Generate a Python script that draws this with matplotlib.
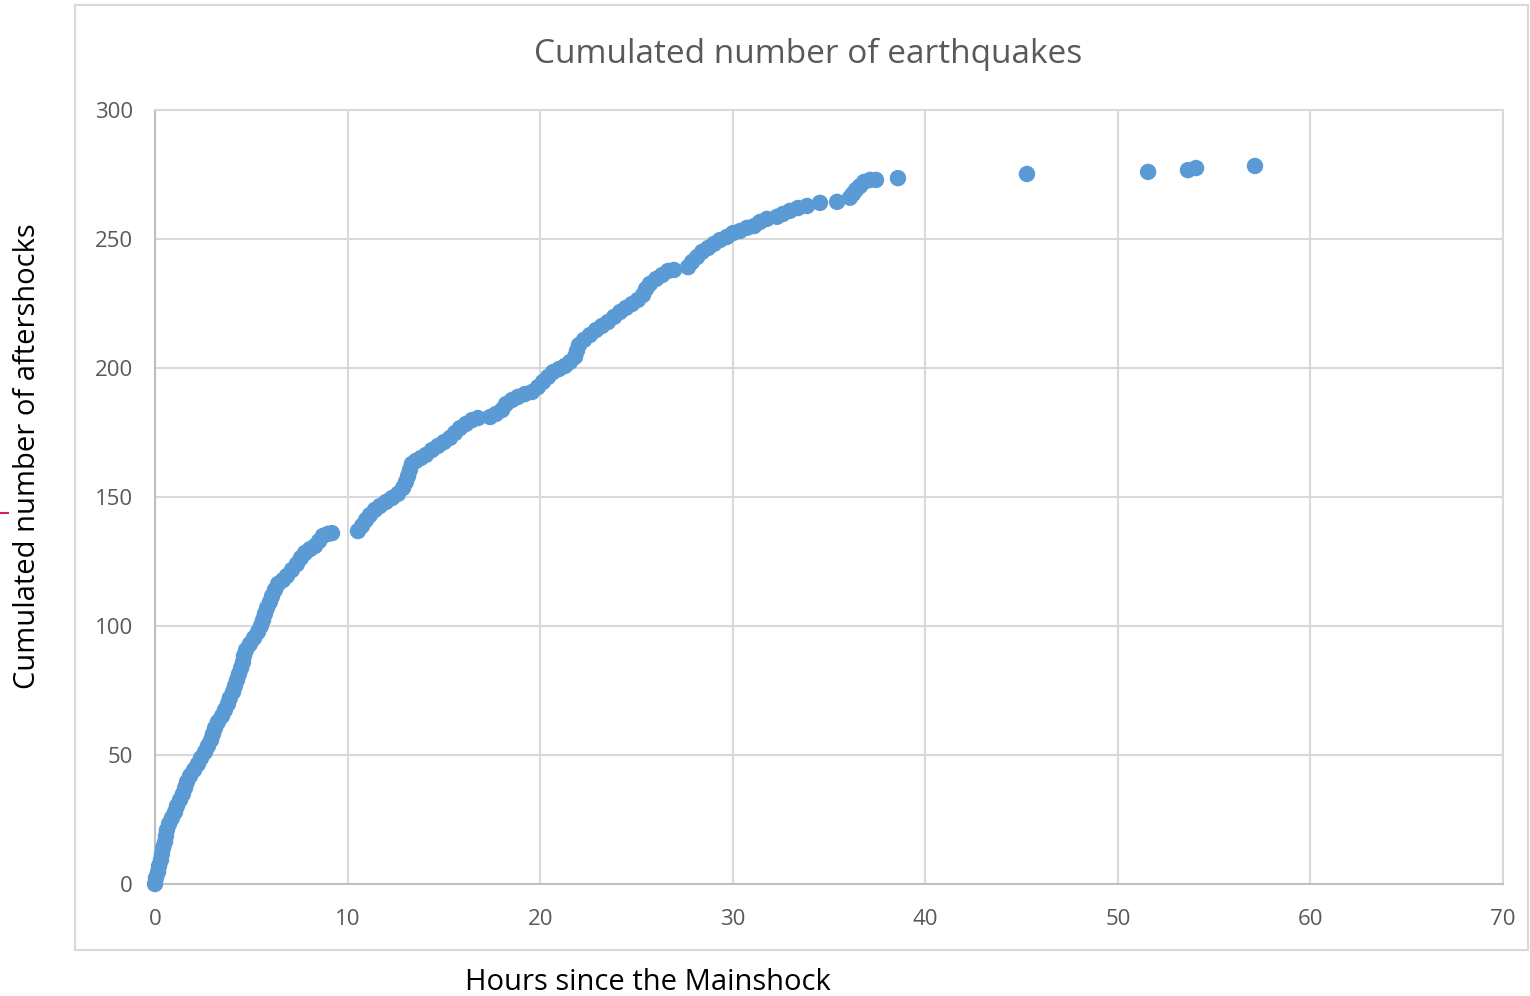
import matplotlib.pyplot as plt
from matplotlib.patches import Rectangle
from matplotlib.lines import Line2D

# temps (heures depuis le choc principal) et nombre cumule de repliques
hours = [
    0.00, 0.05, 0.16, 0.21, 0.31, 0.36, 0.42, 0.52, 0.57, 0.62, 0.73, 0.88,
    1.04, 1.14, 1.30, 1.45, 1.56, 1.66, 1.82, 2.03, 2.23, 2.39, 2.60, 2.75,
    2.91, 3.01, 3.12, 3.27, 3.48, 3.63, 3.79, 3.89, 4.05, 4.15, 4.26, 4.36,
    4.47, 4.57, 4.62, 4.73, 4.93, 5.14, 5.35, 5.50, 5.61, 5.71, 5.82, 5.97,
    6.08, 6.23, 6.39, 6.65, 6.85, 7.11, 7.37, 7.58, 7.79, 8.05, 8.31, 8.52,
    8.72, 8.98, 9.19,
    10.54, 10.75, 10.96, 11.16, 11.42, 11.68, 12.00, 12.31, 12.62, 12.88,
    13.03, 13.14, 13.24, 13.34, 13.55, 13.81, 14.07, 14.38, 14.70, 15.01,
    15.32, 15.58, 15.84, 16.15, 16.46, 16.77, 17.40, 17.71, 18.02, 18.23,
    18.54, 18.85, 19.21, 19.58, 19.89, 20.15, 20.41, 20.67, 20.98, 21.29,
    21.55, 21.81, 21.91, 22.02, 22.28, 22.59, 22.90, 23.21, 23.52, 23.84,
    24.15, 24.46, 24.77, 25.08, 25.34, 25.50, 25.70, 26.02, 26.33, 26.64,
    26.95, 27.68, 27.89, 28.15, 28.41, 28.72, 29.03, 29.34, 29.70, 30.02,
    30.38, 30.74, 31.11, 31.42, 31.78, 32.30, 32.61, 32.97, 33.39, 33.86,
    34.53, 35.42, 36.09, 36.24, 36.40, 36.61, 36.82, 37.13, 37.44, 38.58,
    45.28, 51.57, 53.64, 54.06, 57.12,
]
counts = [
    0.0, 2.3, 4.7, 7.0, 9.3, 11.6, 14.0, 16.3, 18.6, 20.9, 23.3, 25.6,
    27.9, 30.2, 32.6, 34.9, 37.2, 39.5, 41.9, 44.2, 46.5, 48.8, 51.2, 53.5,
    55.8, 58.1, 60.5, 62.8, 65.1, 67.4, 69.8, 72.1, 74.4, 76.7, 79.1, 81.4,
    83.7, 86.0, 88.4, 90.7, 93.0, 95.3, 97.7, 100.0, 102.3, 104.7, 107.0, 109.3,
    111.6, 114.0, 116.3, 117.8, 119.4, 121.7, 124.0, 126.4, 128.3, 129.8, 131.0, 132.9,
    134.9, 135.7, 136.0,
    136.8, 138.8, 141.1, 143.0, 145.0, 146.5, 148.1, 149.6, 151.2, 153.5,
    155.8, 158.1, 160.5, 162.8, 164.0, 165.1, 166.3, 168.2, 169.8, 171.3,
    172.9, 174.8, 176.7, 178.3, 179.8, 180.6, 181.0, 182.2, 183.7, 186.0,
    187.6, 188.8, 189.9, 190.7, 192.6, 194.6, 196.5, 198.4, 199.6, 200.8,
    202.3, 204.3, 206.6, 208.9, 210.9, 212.8, 214.7, 216.3, 217.8, 219.8,
    221.7, 223.3, 224.8, 226.4, 228.3, 230.6, 232.6, 234.5, 236.0, 237.6,
    238.0, 239.1, 241.1, 243.0, 245.0, 246.5, 248.1, 249.6, 250.8, 252.3,
    253.1, 254.3, 255.0, 256.6, 257.8, 258.6, 259.7, 260.9, 262.0, 262.8,
    264.0, 264.4, 266.0, 267.4, 269.0, 270.5, 272.1, 272.9, 272.9, 273.6,
    275.2, 276.0, 276.7, 277.5, 278.3,
]
x_ticks = [0, 10, 20, 30, 40, 50, 60, 70]
y_ticks = [0, 50, 100, 150, 200, 250, 300]

BLUE = "#5b9bd5"
GRID = "#d9d9d9"
TXT = "#595959"
FONT = ["Open Sans", "DejaVu Sans"]

plt.rcParams["font.family"] = FONT

fig = plt.figure(figsize=(15.3, 9.96), dpi=100)
fig.patch.set_facecolor("white")

# cadre du graphique (style excel)
fig.patches.append(Rectangle((75 / 1530, 1 - 950 / 996), 1453 / 1530, 945 / 996,
                             transform=fig.transFigure, facecolor="none",
                             edgecolor=GRID, linewidth=1.5))
# petit trait rouge a gauche
fig.lines.append(Line2D([0, 8 / 1530], [1 - 513 / 996, 1 - 513 / 996],
                        transform=fig.transFigure, color="#d6204e", linewidth=1.5))

ax = fig.add_axes([155 / 1530, 1 - 884 / 996, 1348 / 1530, 774 / 996])
ax.scatter(hours, counts, s=140, color=BLUE, edgecolors="none", zorder=3, clip_on=False)

ax.set_xlim(0, 70)
ax.set_ylim(0, 300)
ax.set_xticks(x_ticks)
ax.set_yticks(y_ticks)
ax.grid(True, color=GRID, linewidth=1.5)
ax.set_axisbelow(True)
for side in ["top", "right"]:
    ax.spines[side].set_color(GRID)
    ax.spines[side].set_linewidth(1.5)
for side in ["left", "bottom"]:
    ax.spines[side].set_color("#bfbfbf")
    ax.spines[side].set_linewidth(1.5)
ax.tick_params(length=0, labelsize=16, labelcolor=TXT)
ax.tick_params(axis="x", pad=18)
ax.tick_params(axis="y", pad=16)

fig.text(808 / 1530, 1 - 54 / 996, "Cumulated number of earthquakes",
         ha="center", va="center", fontsize=24, color=TXT)
fig.text(28 / 1530, 1 - 456 / 996, "Cumulated number of aftershocks",
         ha="center", va="center", rotation=90, fontsize=21, color="black")
fig.text(648 / 1530, 1 - 982 / 996, "Hours since the Mainshock",
         ha="center", va="center", fontsize=21, color="black")

plt.savefig("out.png", dpi=100, facecolor="white")
